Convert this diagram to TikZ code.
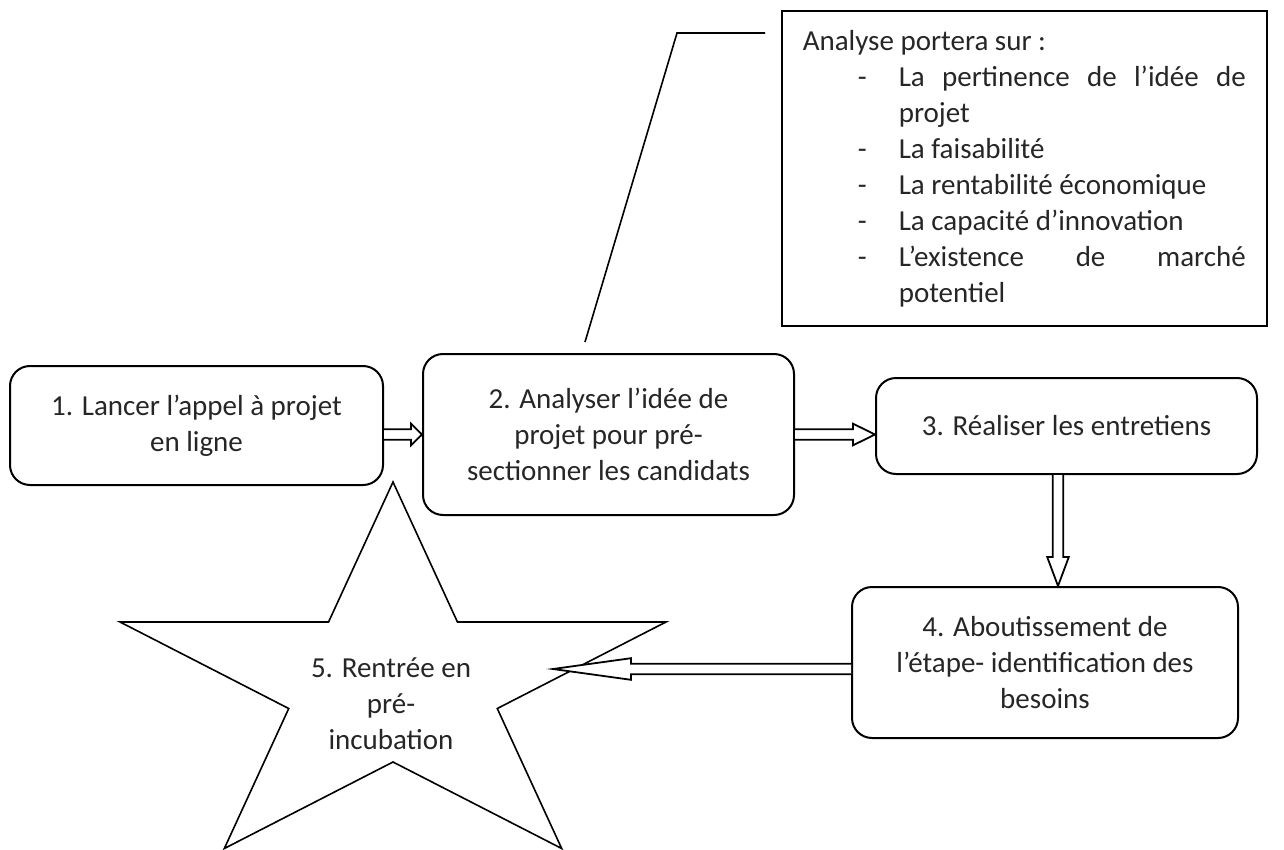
\documentclass[tikz,border=0pt]{standalone}
\usepackage{fontspec}
\setmainfont{Carlito}
\usetikzlibrary{calc, positioning}

\tikzset{
  stepbox/.style={draw, rounded corners=10pt, line width=1pt, align=center, inner sep=0pt},
  arrline/.style={line width=0.9pt, fill=white, line join=miter},
}

% hollow block arrow: [head length]{from}{to}
\newcommand{\hollowarrow}[3][6pt]{%
  \coordinate (hb) at ($(#3)!#1!(#2)$);
  \draw[arrline] ($(#2)!2.6pt!90:(#3)$) -- ($(hb)!2.6pt!90:(#3)$) -- ($(hb)!5.4pt!90:(#3)$)
    -- (#3) -- ($(hb)!5.4pt!-90:(#3)$) -- ($(hb)!2.6pt!-90:(#3)$) -- ($(#2)!2.6pt!-90:(#3)$);
}

\newenvironment{dashlist}{\begin{list}{-}{\setlength\leftmargin{48pt}\setlength\labelsep{0pt}%
  \setlength\labelwidth{20.5pt}\setlength\itemsep{0pt}\setlength\parsep{0pt}%
  \setlength\topsep{0pt}\setlength\partopsep{0pt}\renewcommand\makelabel[1]{##1\hfil}}}{\end{list}}

\begin{document}
\begin{tikzpicture}[x=0.5pt, y=-0.5pt, font=\fontsize{14.5}{18}\selectfont, text=black!85]
\useasboundingbox (0,0) rectangle (1284,850);

% Step nodes
\node (E1) [stepbox, minimum width=186.5pt, minimum height=59.5pt] at (196.5,425.5) {1. Lancer l’appel à projet\\en ligne};
\node (E2) [stepbox, minimum width=185.5pt, minimum height=80.5pt] at (608.5,434.5) {2. Analyser l’idée de\\projet pour pré-\\sectionner les candidats};
\node (E3) [stepbox, minimum width=190.5pt, minimum height=48pt] at (1066.5,426) {3. Réaliser les entretiens};
\node (E4) [stepbox, minimum width=193pt, minimum height=75.5pt] at (1045,662.5) {4. Aboutissement de\\l’étape- identification des\\besoins};

% Star
\draw[line width=0.8pt, shift={(393,684.6)}] (270:287 and 202.6)
  \foreach \k [evaluate=\k as \rr using {mod(\k,2)==0 ? 1 : 0.382}] in {1,...,9} {
    -- ({270+36*\k}:{287*\rr} and {202.6*\rr}) } -- cycle;
\node (E5) [align=center] at (391,704) {5. Rentrée en\\pré-\\incubation};

% Callout
\node (note) [draw, line width=0.8pt, anchor=north west, minimum height=157.5pt, text width=221.5pt,
  inner xsep=10.5pt, align=justify] at (781,10) {\hyphenpenalty=10000 \tolerance=10000
  \spaceskip=\fontdimen2\font plus 3em minus 0pt
  Analyse portera sur :
  \begin{dashlist}
  \item La pertinence de l’idée de projet
  \item La faisabilité
  \item La rentabilité économique
  \item La capacité d’innovation
  \item L’existence de marché potentiel
  \end{dashlist}};
\coordinate (c1) at (585,342);
\coordinate (c2) at (677,33);
\coordinate (c3) at ($(note.west |- c2)+(-16,0)$);
\draw[line width=0.8pt] (c1) -- (c2) -- (c3);

% Arrows
\coordinate (a1) at (E1.east |- E2.center);
\coordinate (a2) at (E3.west |- E2.center);
\coordinate (a3) at ($(E3.south)+(-8.5,0)$);
\coordinate (a4) at (a3 |- E4.north);
\coordinate (t5) at (553,669);
\coordinate (a5) at (E4.west |- t5);
\hollowarrow[5.5pt]{a1}{E2.west |- a1}
\hollowarrow[11pt]{E2.east}{a2}
\hollowarrow[14.5pt]{a3}{a4}
\hollowarrow[39pt]{a5}{t5}
\end{tikzpicture}
\end{document}
